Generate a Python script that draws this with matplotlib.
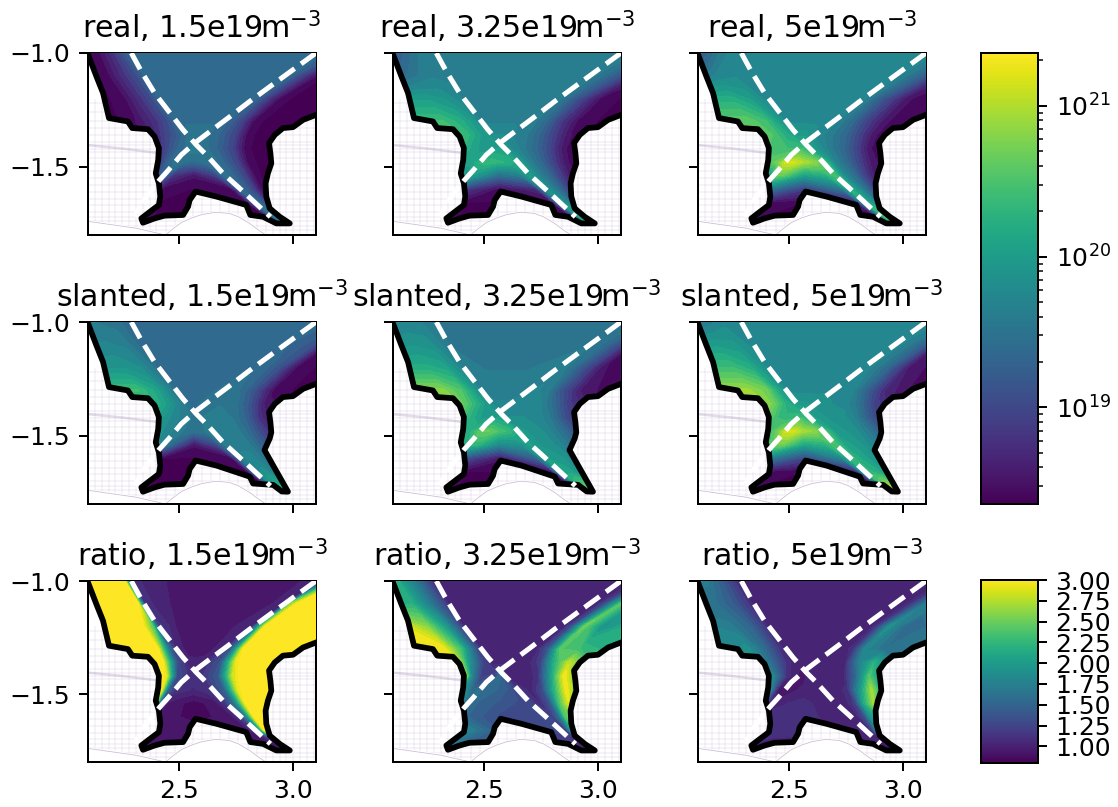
import numpy as np
import matplotlib
matplotlib.use('Agg')
import matplotlib.pyplot as plt
from matplotlib.colors import LogNorm, Normalize
from matplotlib.cm import ScalarMappable
from matplotlib.patches import Polygon

# wall outlines
WALL_R = [2.09, 2.137, 2.166, 2.192, 2.275, 2.294, 2.363, 2.392, 2.411, 2.408, 2.397, 2.411, 2.417, 2.411, 2.373, 2.334,
          2.341, 2.392, 2.436, 2.517, 2.539, 2.546, 2.572, 2.663, 2.794, 2.812, 2.868, 2.926, 2.985, 2.941, 2.897,
          2.882, 2.879, 2.889, 2.904, 2.900, 2.894, 2.919, 2.955, 2.999, 3.043, 3.11]
WALL_Z = [-0.98, -1.103, -1.176, -1.286, -1.301, -1.330, -1.335, -1.367, -1.418, -1.470, -1.529, -1.573, -1.631, -1.668,
          -1.697, -1.727, -1.746, -1.727, -1.715, -1.712, -1.675, -1.646, -1.609, -1.631, -1.668, -1.712, -1.720,
          -1.749, -1.749, -1.720, -1.683, -1.631, -1.573, -1.529, -1.485, -1.441, -1.396, -1.360, -1.330, -1.326,
          -1.294, -1.268]
SLANT_WALL_R = [2.09, 2.137, 2.166, 2.192, 2.275, 2.294, 2.363, 2.392, 2.411, 2.408, 2.397, 2.411, 2.417, 2.411, 2.373,
                2.334, 2.341, 2.392, 2.436, 2.517, 2.539, 2.546, 2.572, 2.663, 2.81, 2.824, 2.912, 2.95, 2.977, 2.911,
                2.874, 2.897, 2.904, 2.900, 2.894, 2.919, 2.955, 2.999, 3.043, 3.11]
SLANT_WALL_Z = [-0.98, -1.103, -1.176, -1.286, -1.301, -1.330, -1.335, -1.367, -1.418, -1.470, -1.529, -1.573, -1.631,
                -1.668, -1.697, -1.727, -1.746, -1.727, -1.715, -1.712, -1.675, -1.646, -1.609, -1.631, -1.68, -1.71,
                -1.716, -1.745, -1.746, -1.629, -1.563, -1.512, -1.485, -1.441, -1.396, -1.360, -1.330, -1.326,
                -1.294, -1.268]

# separatrix legs
SEP1_R = [2.29, 2.334, 2.392, 2.466, 2.517, 2.575, 2.619, 2.692, 2.765, 2.867, 2.90]
SEP1_Z = [-1.0, -1.081, -1.176, -1.272, -1.338, -1.404, -1.448, -1.529, -1.595, -1.69, -1.72]
SEP2_R = [3.1, 2.926, 2.809, 2.714, 2.626, 2.568, 2.509, 2.451, 2.414, 2.356, 2.304]
SEP2_Z = [-1.0, -1.127, -1.213, -1.286, -1.352, -1.396, -1.448, -1.517, -1.558, -1.631, -1.719]

# background grid
MESH_R = [2.10, 2.13, 2.16, 2.19, 2.22, 2.25, 2.28, 2.31, 2.34, 2.37, 2.40, 2.44, 2.48, 2.52, 2.56, 2.60, 2.64, 2.68,
          2.72, 2.76, 2.80, 2.84, 2.88, 2.91, 2.94, 2.97, 3.00, 3.03, 3.06, 3.09]
MESH_Z = [-1.22, -1.26, -1.30, -1.33, -1.36, -1.39, -1.405, -1.42, -1.435, -1.46, -1.49, -1.52, -1.55, -1.58, -1.61,
          -1.64, -1.67, -1.70, -1.72, -1.74, -1.76, -1.78]
DOME_R = [2.44, 2.47, 2.51, 2.555, 2.60, 2.66, 2.72, 2.76, 2.81, 2.85, 2.88]
DOME_Z = [-1.80, -1.775, -1.745, -1.725, -1.71, -1.70, -1.705, -1.72, -1.75, -1.78, -1.80]
FLOOR_R = [2.10, 2.31, 2.44, 2.10]
FLOOR_Z = [-1.74, -1.77, -1.80, -1.80]
BAND_R = [2.10, 2.25, 2.41]
BAND_Z = [-1.405, -1.42, -1.44]

# sample rows of the density and ratio tables
ROW_Z = [-1.0, -1.1, -1.2, -1.3, -1.36, -1.42, -1.48, -1.54, -1.6, -1.66, -1.72, -1.76]
ROW_R = [
    [2.05, 2.14, 2.21, 2.26, 2.285, 2.5, 2.7, 2.9, 3.11, 3.14, 3.2, 3.25, 3.3, 3.4],
    [2.08, 2.18, 2.26, 2.32, 2.349, 2.5, 2.65, 2.8, 2.965, 2.99, 3.03, 3.10, 3.16, 3.3],
    [2.12, 2.25, 2.33, 2.385, 2.41, 2.5, 2.6, 2.7, 2.82, 2.85, 2.88, 2.94, 3.02, 3.2],
    [2.2, 2.32, 2.40, 2.455, 2.488, 2.53, 2.58, 2.64, 2.69, 2.73, 2.78, 2.83, 2.92, 3.1],
    [2.32, 2.38, 2.43, 2.49, 2.535, 2.552, 2.57, 2.588, 2.605, 2.68, 2.745, 2.80, 2.87, 3.0],
    [2.37, 2.41, 2.445, 2.49, 2.553, 2.562, 2.571, 2.58, 2.59, 2.67, 2.735, 2.79, 2.85, 2.95],
    [2.37, 2.40, 2.425, 2.45, 2.485, 2.52, 2.56, 2.61, 2.648, 2.70, 2.755, 2.80, 2.86, 2.95],
    [2.36, 2.385, 2.40, 2.415, 2.435, 2.47, 2.565, 2.66, 2.703, 2.745, 2.79, 2.825, 2.87, 2.95],
    [2.32, 2.34, 2.355, 2.37, 2.38, 2.43, 2.57, 2.73, 2.77, 2.80, 2.83, 2.855, 2.89, 2.95],
    [2.28, 2.30, 2.315, 2.33, 2.34, 2.42, 2.585, 2.80, 2.835, 2.86, 2.875, 2.89, 2.91, 2.97],
    [2.24, 2.26, 2.275, 2.29, 2.30, 2.41, 2.61, 2.88, 2.92, 2.93, 2.94, 2.95, 2.97, 3.0],
    [2.21, 2.23, 2.245, 2.26, 2.27, 2.40, 2.62, 2.93, 2.97, 2.98, 2.99, 3.0, 3.02, 3.05],
]

# log10 of density
REAL_15 = [
    [18.3, 18.4, 18.8, 19.2, 19.35, 19.42, 19.42, 19.42, 19.4, 19.35, 19.2, 18.9, 18.5, 18.3],
    [18.3, 18.4, 18.8, 19.1, 19.35, 19.42, 19.42, 19.42, 19.4, 19.3, 19.0, 18.5, 18.3, 18.3],
    [18.3, 18.4, 18.8, 19.1, 19.35, 19.42, 19.42, 19.42, 19.4, 19.25, 18.95, 18.45, 18.3, 18.3],
    [18.3, 18.5, 18.8, 19.1, 19.4, 19.42, 19.42, 19.42, 19.42, 19.25, 18.9, 18.4, 18.3, 18.3],
    [18.4, 18.6, 18.9, 19.2, 19.45, 19.5, 19.5, 19.5, 19.5, 19.3, 18.95, 18.4, 18.3, 18.3],
    [18.5, 18.7, 19.0, 19.3, 19.55, 19.62, 19.65, 19.62, 19.55, 19.3, 18.95, 18.4, 18.3, 18.3],
    [18.6, 18.8, 19.0, 19.3, 19.5, 19.45, 19.4, 19.45, 19.55, 19.3, 18.95, 18.45, 18.3, 18.3],
    [18.6, 18.8, 19.0, 19.2, 19.35, 18.8, 18.5, 18.9, 19.5, 19.3, 18.95, 18.5, 18.3, 18.3],
    [18.4, 18.4, 18.5, 18.6, 18.9, 18.4, 18.35, 18.4, 19.4, 19.2, 18.9, 18.5, 18.3, 18.3],
    [18.3, 18.3, 18.3, 18.4, 18.5, 18.35, 18.35, 18.35, 19.4, 19.3, 19.1, 18.7, 18.4, 18.3],
    [18.3, 18.3, 18.3, 18.35, 18.4, 18.35, 18.35, 18.35, 19.6, 19.7, 19.5, 19.2, 18.8, 18.5],
    [18.3, 18.3, 18.3, 18.35, 18.4, 18.35, 18.35, 18.35, 19.6, 19.7, 19.5, 19.2, 18.8, 18.5],
]
REAL_325 = [
    [19.0, 19.3, 19.55, 19.62, 19.62, 19.62, 19.62, 19.62, 19.62, 19.6, 19.5, 19.4, 19.2, 18.8],
    [19.2, 19.5, 19.65, 19.65, 19.62, 19.62, 19.62, 19.62, 19.62, 19.55, 19.4, 19.1, 18.7, 18.4],
    [20.0, 20.0, 19.9, 19.75, 19.65, 19.62, 19.62, 19.62, 19.62, 19.5, 19.3, 18.9, 18.4, 18.3],
    [20.4, 20.4, 20.2, 19.95, 19.66, 19.65, 19.65, 19.65, 19.65, 19.55, 19.3, 18.9, 18.4, 18.3],
    [20.5, 20.5, 20.3, 20.0, 19.85, 19.8, 19.8, 19.8, 19.7, 19.6, 19.3, 18.95, 18.5, 18.3],
    [20.3, 20.3, 20.1, 20.0, 20.0, 20.05, 20.05, 20.05, 19.9, 19.6, 19.3, 18.95, 18.5, 18.3],
    [20.1, 20.1, 20.1, 20.1, 20.3, 20.35, 20.3, 20.25, 20.1, 19.65, 19.3, 18.95, 18.5, 18.3],
    [19.9, 19.9, 19.9, 19.9, 20.05, 19.9, 19.4, 19.6, 20.0, 19.65, 19.35, 19.0, 18.6, 18.3],
    [19.0, 19.0, 19.0, 19.0, 19.3, 18.8, 18.4, 18.7, 19.9, 19.7, 19.4, 19.1, 18.7, 18.4],
    [18.4, 18.4, 18.4, 18.4, 18.6, 18.35, 18.35, 18.4, 19.9, 19.8, 19.6, 19.3, 18.9, 18.5],
    [18.35, 18.35, 18.35, 18.35, 18.4, 18.35, 18.35, 18.35, 20.1, 20.4, 20.2, 19.8, 19.3, 18.7],
    [18.35, 18.35, 18.35, 18.35, 18.4, 18.35, 18.35, 18.35, 20.1, 20.4, 20.2, 19.8, 19.3, 18.7],
]
REAL_50 = [
    [18.9, 19.3, 19.65, 19.72, 19.72, 19.72, 19.72, 19.72, 19.72, 19.7, 19.6, 19.5, 19.3, 18.8],
    [19.4, 19.7, 19.78, 19.75, 19.72, 19.72, 19.72, 19.72, 19.72, 19.65, 19.5, 19.2, 18.8, 18.4],
    [20.2, 20.2, 20.0, 19.78, 19.75, 19.72, 19.72, 19.72, 19.72, 19.6, 19.35, 19.0, 18.5, 18.3],
    [20.6, 20.6, 20.4, 20.0, 19.78, 19.75, 19.75, 19.75, 19.75, 19.6, 19.35, 19.0, 18.5, 18.3],
    [20.7, 20.7, 20.5, 20.2, 20.0, 20.0, 20.0, 19.9, 19.8, 19.6, 19.35, 19.0, 18.5, 18.3],
    [20.6, 20.5, 20.4, 20.4, 20.4, 20.4, 20.3, 20.2, 20.1, 19.65, 19.35, 19.0, 18.5, 18.3],
    [20.6, 20.6, 20.6, 20.7, 21.15, 21.15, 21.0, 20.85, 20.6, 19.7, 19.35, 19.0, 18.55, 18.3],
    [20.0, 20.0, 20.0, 20.0, 20.6, 20.6, 20.0, 20.2, 20.45, 19.75, 19.4, 19.0, 18.6, 18.3],
    [19.3, 19.3, 19.3, 19.3, 19.7, 19.4, 18.85, 19.5, 20.3, 19.9, 19.55, 19.2, 18.7, 18.4],
    [18.5, 18.5, 18.5, 18.5, 18.7, 18.4, 18.35, 18.6, 20.2, 20.0, 19.8, 19.4, 19.0, 18.5],
    [18.35, 18.35, 18.35, 18.35, 18.4, 18.35, 18.35, 18.4, 20.5, 20.7, 20.4, 19.9, 19.4, 18.7],
    [18.35, 18.35, 18.35, 18.35, 18.4, 18.35, 18.35, 18.4, 20.5, 20.7, 20.4, 19.9, 19.4, 18.7],
]
SLANT_15 = [
    [19.55, 19.55, 19.5, 19.4, 19.35, 19.35, 19.35, 19.35, 19.35, 19.35, 19.3, 19.2, 18.9, 18.3],
    [19.65, 19.7, 19.65, 19.42, 19.35, 19.35, 19.35, 19.35, 19.35, 19.3, 19.25, 19.05, 18.4, 18.3],
    [19.9, 19.9, 19.8, 19.55, 19.4, 19.35, 19.35, 19.35, 19.4, 19.4, 19.35, 19.1, 18.4, 18.3],
    [20.4, 20.4, 20.1, 19.7, 19.42, 19.38, 19.38, 19.4, 19.5, 19.5, 19.4, 19.1, 18.4, 18.3],
    [20.3, 20.3, 20.1, 19.75, 19.5, 19.4, 19.4, 19.45, 19.55, 19.55, 19.5, 19.2, 18.6, 18.3],
    [20.0, 20.0, 19.85, 19.7, 19.55, 19.45, 19.45, 19.5, 19.55, 19.6, 19.55, 19.3, 18.8, 18.3],
    [19.9, 19.9, 19.8, 19.7, 19.65, 19.55, 19.5, 19.55, 19.6, 19.6, 19.6, 19.4, 19.0, 18.4],
    [19.8, 19.8, 19.8, 19.7, 19.6, 19.3, 18.5, 19.0, 19.6, 19.65, 19.65, 19.5, 19.2, 18.6],
    [18.4, 18.4, 18.4, 18.4, 18.6, 18.35, 18.35, 18.4, 19.6, 19.7, 19.7, 19.6, 19.4, 18.9],
    [18.35, 18.35, 18.35, 18.35, 18.35, 18.35, 18.35, 18.35, 19.7, 19.8, 19.85, 19.8, 19.6, 19.2],
    [18.35, 18.35, 18.35, 18.35, 18.35, 18.35, 18.35, 18.35, 19.9, 20.1, 20.2, 20.2, 20.0, 19.4],
    [18.35, 18.35, 18.35, 18.35, 18.35, 18.35, 18.35, 18.35, 19.9, 20.1, 20.2, 20.2, 20.0, 19.4],
]
SLANT_325 = [
    [19.6, 19.7, 19.7, 19.6, 19.55, 19.55, 19.55, 19.55, 19.55, 19.5, 19.4, 19.2, 18.8, 18.3],
    [19.8, 19.9, 19.85, 19.65, 19.55, 19.55, 19.55, 19.55, 19.55, 19.5, 19.4, 19.0, 18.4, 18.3],
    [20.2, 20.2, 20.1, 19.8, 19.6, 19.55, 19.55, 19.55, 19.6, 19.6, 19.5, 19.1, 18.5, 18.3],
    [20.8, 20.8, 20.5, 20.0, 19.7, 19.6, 19.6, 19.6, 19.65, 19.7, 19.6, 19.2, 18.6, 18.3],
    [20.8, 20.8, 20.5, 20.1, 19.8, 19.7, 19.7, 19.7, 19.7, 19.75, 19.7, 19.4, 18.9, 18.4],
    [20.4, 20.4, 20.2, 20.0, 20.0, 20.05, 20.05, 20.0, 19.8, 19.8, 19.75, 19.55, 19.1, 18.5],
    [20.2, 20.2, 20.2, 20.3, 20.65, 20.65, 20.5, 20.35, 20.15, 19.85, 19.8, 19.65, 19.35, 18.7],
    [20.2, 20.2, 20.2, 20.2, 20.3, 20.3, 19.75, 19.85, 20.05, 19.9, 19.85, 19.75, 19.55, 19.1],
    [19.0, 19.0, 19.0, 19.0, 19.4, 19.0, 18.5, 19.3, 20.05, 20.0, 19.95, 19.9, 19.7, 19.3],
    [18.4, 18.4, 18.4, 18.4, 18.5, 18.35, 18.35, 18.5, 20.1, 20.1, 20.1, 20.05, 19.9, 19.5],
    [18.35, 18.35, 18.35, 18.35, 18.4, 18.35, 18.35, 18.4, 20.3, 20.5, 20.6, 20.6, 20.4, 19.8],
    [18.35, 18.35, 18.35, 18.35, 18.4, 18.35, 18.35, 18.4, 20.3, 20.5, 20.6, 20.6, 20.4, 19.8],
]
SLANT_50 = [
    [19.45, 19.6, 19.75, 19.75, 19.72, 19.72, 19.72, 19.72, 19.72, 19.7, 19.6, 19.45, 19.1, 18.4],
    [19.95, 20.0, 19.95, 19.78, 19.72, 19.72, 19.72, 19.72, 19.72, 19.68, 19.55, 19.2, 18.5, 18.3],
    [20.4, 20.4, 20.2, 19.9, 19.75, 19.72, 19.72, 19.72, 19.72, 19.7, 19.6, 19.3, 18.6, 18.3],
    [20.9, 20.9, 20.7, 20.1, 19.78, 19.75, 19.75, 19.75, 19.78, 19.75, 19.7, 19.35, 18.7, 18.3],
    [21.0, 21.0, 20.7, 20.2, 20.0, 19.95, 19.95, 19.9, 19.85, 19.8, 19.75, 19.5, 18.95, 18.4],
    [20.6, 20.6, 20.4, 20.3, 20.4, 20.4, 20.3, 20.2, 20.1, 19.9, 19.85, 19.65, 19.2, 18.5],
    [20.5, 20.5, 20.5, 20.7, 21.15, 21.15, 20.95, 20.85, 20.6, 20.0, 19.9, 19.8, 19.5, 18.8],
    [20.5, 20.5, 20.5, 20.5, 20.7, 20.7, 20.1, 20.25, 20.5, 20.1, 20.0, 19.9, 19.7, 19.2],
    [19.3, 19.3, 19.3, 19.3, 19.8, 19.5, 18.95, 19.7, 20.4, 20.2, 20.1, 20.0, 19.85, 19.4],
    [18.5, 18.5, 18.5, 18.5, 18.7, 18.4, 18.35, 18.7, 20.35, 20.3, 20.25, 20.2, 20.05, 19.6],
    [18.35, 18.35, 18.35, 18.35, 18.4, 18.35, 18.35, 18.5, 20.6, 20.8, 20.9, 20.9, 20.6, 20.0],
    [18.35, 18.35, 18.35, 18.35, 18.4, 18.35, 18.35, 18.5, 20.6, 20.8, 20.9, 20.9, 20.6, 20.0],
]
RATIO_15 = [
    [3.2, 3.2, 3.2, 3.1, 1.1, 0.93, 0.93, 0.93, 1.0, 1.6, 2.6, 3.2, 3.2, 3.2],
    [3.2, 3.2, 3.2, 3.0, 1.1, 0.93, 0.93, 0.93, 1.0, 2.6, 3.2, 3.2, 3.2, 3.2],
    [3.2, 3.2, 3.2, 2.4, 1.2, 0.93, 0.93, 0.93, 1.05, 2.1, 3.1, 3.2, 3.2, 3.2],
    [3.2, 3.2, 3.2, 1.6, 1.05, 0.95, 0.93, 0.95, 1.05, 1.45, 3.0, 3.2, 3.2, 3.2],
    [3.2, 3.2, 3.0, 1.35, 1.05, 1.0, 1.0, 1.0, 1.05, 1.35, 2.9, 3.2, 3.2, 3.2],
    [3.2, 3.2, 2.9, 1.3, 1.1, 1.1, 1.1, 1.1, 1.1, 1.4, 2.85, 3.2, 3.2, 3.2],
    [3.2, 3.2, 2.9, 1.5, 1.1, 1.1, 1.05, 1.1, 1.15, 1.5, 2.9, 3.2, 3.2, 3.2],
    [3.2, 3.2, 2.5, 1.5, 1.0, 0.93, 0.85, 0.93, 1.15, 1.7, 3.0, 3.2, 3.2, 3.2],
    [2.0, 2.0, 2.0, 1.5, 1.0, 0.93, 0.85, 0.93, 1.2, 1.9, 3.1, 3.2, 3.2, 3.2],
    [0.93, 0.93, 0.93, 0.93, 0.93, 0.93, 0.93, 0.93, 1.2, 2.2, 3.1, 3.2, 3.2, 3.2],
    [0.93, 0.93, 0.93, 0.93, 0.93, 0.93, 0.93, 0.93, 0.95, 1.0, 1.2, 1.4, 0.93, 0.93],
    [0.93, 0.93, 0.93, 0.93, 0.93, 0.93, 0.93, 0.93, 0.95, 1.0, 1.2, 1.4, 0.93, 0.93],
]
RATIO_325 = [
    [2.8, 2.0, 1.6, 1.2, 1.0, 1.0, 1.0, 1.0, 1.0, 1.0, 1.2, 2.0, 2.0, 2.0],
    [2.2, 2.2, 1.7, 1.3, 1.0, 1.0, 1.0, 1.0, 1.0, 1.0, 1.3, 2.4, 2.0, 2.0],
    [3.0, 2.6, 2.0, 1.4, 1.05, 1.0, 1.0, 1.0, 1.0, 1.0, 1.3, 2.5, 1.9, 2.3],
    [3.0, 3.0, 2.3, 1.5, 1.05, 1.0, 1.0, 1.0, 0.98, 1.0, 1.4, 2.4, 2.3, 2.1],
    [3.0, 3.0, 2.0, 1.3, 1.0, 1.0, 1.0, 1.0, 0.98, 0.98, 1.2, 2.1, 2.8, 2.1],
    [3.0, 3.0, 1.8, 1.2, 1.3, 1.5, 1.55, 1.4, 1.05, 0.98, 1.1, 2.0, 3.0, 2.0],
    [2.0, 2.0, 1.8, 1.5, 1.6, 1.55, 1.5, 1.4, 1.2, 1.0, 1.3, 2.1, 3.0, 2.0],
    [1.8, 1.8, 1.8, 1.7, 1.6, 1.5, 1.4, 1.3, 1.25, 1.05, 1.4, 2.3, 2.9, 1.9],
    [1.9, 1.9, 1.9, 1.9, 1.8, 1.5, 1.3, 1.3, 1.3, 1.2, 1.6, 2.4, 2.6, 1.8],
    [2.1, 2.1, 2.1, 2.1, 2.0, 1.8, 1.35, 1.25, 1.3, 1.2, 1.8, 2.2, 2.2, 1.5],
    [2.0, 2.0, 2.0, 2.2, 1.9, 1.5, 1.2, 1.2, 1.0, 1.0, 1.2, 1.5, 1.3, 1.0],
    [2.0, 2.0, 2.0, 2.2, 1.9, 1.5, 1.2, 1.2, 1.0, 1.0, 1.2, 1.5, 1.3, 1.0],
]
RATIO_50 = [
    [1.8, 1.7, 1.4, 1.15, 1.0, 1.0, 1.0, 1.0, 1.0, 1.0, 1.1, 1.6, 1.6, 1.6],
    [1.6, 1.6, 1.4, 1.15, 1.0, 1.0, 1.0, 1.0, 1.0, 1.0, 1.1, 1.7, 1.7, 1.7],
    [1.8, 1.7, 1.5, 1.2, 1.0, 1.0, 1.0, 1.0, 1.0, 1.0, 1.1, 1.9, 1.5, 1.7],
    [1.8, 1.9, 1.5, 1.15, 1.0, 1.0, 1.0, 1.0, 1.0, 1.0, 1.1, 1.8, 1.6, 1.6],
    [1.8, 1.8, 1.5, 1.1, 1.0, 1.0, 1.0, 1.0, 1.0, 0.98, 1.05, 1.7, 2.2, 1.5],
    [2.0, 2.0, 1.6, 1.1, 0.95, 0.9, 0.95, 1.0, 1.0, 0.98, 1.0, 1.5, 2.4, 1.5],
    [2.5, 2.5, 1.6, 0.95, 0.9, 0.95, 1.0, 1.0, 1.0, 1.0, 1.1, 1.8, 2.7, 1.5],
    [1.2, 1.2, 1.2, 1.1, 1.0, 1.05, 1.1, 1.0, 1.0, 1.0, 1.2, 2.1, 2.7, 1.5],
    [1.1, 1.1, 1.1, 1.1, 1.1, 1.1, 1.1, 1.0, 1.0, 1.05, 1.3, 1.9, 2.2, 1.5],
    [1.1, 1.1, 1.1, 1.1, 1.15, 1.15, 1.1, 1.0, 1.0, 1.1, 1.5, 1.9, 1.9, 1.3],
    [1.1, 1.1, 1.1, 1.1, 1.1, 1.0, 1.0, 1.0, 0.95, 1.1, 1.4, 1.7, 1.2, 1.0],
    [1.1, 1.1, 1.1, 1.1, 1.1, 1.0, 1.0, 1.0, 0.95, 1.1, 1.4, 1.7, 1.2, 1.0],
]

CASES = ['1.5e19', '3.25e19', '5e19']
ROW_NAMES = ['real', 'slanted', 'ratio']
FIELDS = [[REAL_15, REAL_325, REAL_50], [SLANT_15, SLANT_325, SLANT_50], [RATIO_15, RATIO_325, RATIO_50]]
WALLS = [(WALL_R, WALL_Z), (SLANT_WALL_R, SLANT_WALL_Z), (WALL_R, WALL_Z)]

W, H = 1118, 807
DPI = 180
LOG_MIN, LOG_MAX = 18.36, 21.35
RATIO_MIN, RATIO_MAX = 0.8, 3.0
COL_X = [88, 393, 698]
ROW_Y = [(53, 235), (322, 504), (581, 762)]
MESH_COLOR = '#a58bb8'


def add_px_axes(fig, x0, x1, y0, y1):
    return fig.add_axes([x0 / W, 1 - y1 / H, (x1 - x0) / W, (y1 - y0) / H])


def draw_mesh(ax):
    ax.hlines(MESH_Z, 2.1, 3.1, color=MESH_COLOR, lw=0.12, alpha=0.6, zorder=1)
    ax.vlines(MESH_R, -1.8, -1.2, color=MESH_COLOR, lw=0.12, alpha=0.6, zorder=1)
    ax.plot(BAND_R, BAND_Z, color=MESH_COLOR, lw=1, alpha=0.3, zorder=1)
    ax.fill(DOME_R, DOME_Z, color='white', zorder=2)
    ax.fill(FLOOR_R, FLOOR_Z, color='white', zorder=2)
    ax.plot(DOME_R, DOME_Z, color=MESH_COLOR, lw=0.3, alpha=0.6, zorder=2)
    ax.plot(FLOOR_R[:3], FLOOR_Z[:3], color=MESH_COLOR, lw=0.3, alpha=0.6, zorder=2)


fig = plt.figure(figsize=(W / DPI, H / DPI), dpi=DPI)
X = np.array(ROW_R)
Y = np.repeat(np.array(ROW_Z)[:, None], X.shape[1], axis=1)

for i, name in enumerate(ROW_NAMES):
    for j, case in enumerate(CASES):
        ax = add_px_axes(fig, COL_X[j], COL_X[j] + 228, *ROW_Y[i])
        draw_mesh(ax)
        if i < 2:
            levels = np.linspace(LOG_MIN, LOG_MAX, 26)
            vmin, vmax = LOG_MIN, LOG_MAX
        else:
            levels = np.linspace(RATIO_MIN, RATIO_MAX, 26)
            vmin, vmax = RATIO_MIN, RATIO_MAX
        cs = ax.contourf(X, Y, np.array(FIELDS[i][j]), levels=levels, cmap='viridis',
                         vmin=vmin, vmax=vmax, extend='both', zorder=3)
        wall_r, wall_z = WALLS[i]
        clip = Polygon(list(zip(wall_r, wall_z)) + [(3.11, -0.98)], closed=True,
                       transform=ax.transData, fill=False, edgecolor='none')
        ax.add_patch(clip)
        cs.set_clip_path(clip)
        ax.plot(wall_r, wall_z, color='black', lw=2.3, zorder=4)
        ax.plot(SEP1_R, SEP1_Z, color='white', lw=2, ls='--', zorder=5)
        ax.plot(SEP2_R, SEP2_Z, color='white', lw=2, ls='--', zorder=5)
        ax.set_xlim(2.1, 3.1)
        ax.set_ylim(-1.8, -1.0)
        ax.set_xticks([2.5, 3.0])
        ax.set_yticks([-1.0, -1.5])
        ax.tick_params(labelbottom=i == 2, labelleft=j == 0)
        ax.set_title(name + ', ' + case + 'm$^{-3}$')

cax1 = add_px_axes(fig, 981, 1038, 53, 504)
sm1 = ScalarMappable(norm=LogNorm(10 ** LOG_MIN, 10 ** LOG_MAX), cmap='viridis')
fig.colorbar(sm1, cax=cax1)

cax2 = add_px_axes(fig, 981, 1038, 580, 763)
sm2 = ScalarMappable(norm=Normalize(RATIO_MIN, RATIO_MAX), cmap='viridis')
cb2 = fig.colorbar(sm2, cax=cax2)
cb2.set_ticks(np.arange(1.0, 3.01, 0.25))
cb2.ax.set_yticklabels(['%.2f' % t for t in np.arange(1.0, 3.01, 0.25)])

fig.savefig('out.png', dpi=DPI)
